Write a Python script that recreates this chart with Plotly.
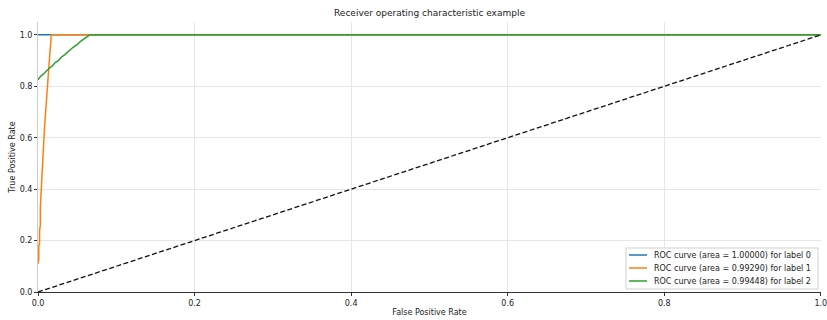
import plotly.graph_objects as go

title = "Receiver operating characteristic example"
x_label = "False Positive Rate"
y_label = "True Positive Rate"

fpr0 = [0.0, 1.0]
tpr0 = [1.0, 1.0]
label0 = "ROC curve (area = 1.00000) for label 0"

fpr1 = [0.0, 0.001, 0.001, 0.002, 0.002, 0.003, 0.003, 0.004, 0.005, 0.006, 0.007, 0.008,
        0.009, 0.010, 0.011, 0.012, 0.013, 0.014, 0.015, 0.016, 0.017, 1.0]
tpr1 = [0.11, 0.13, 0.18, 0.19, 0.24, 0.26, 0.33, 0.40, 0.45, 0.52, 0.57, 0.62,
        0.67, 0.72, 0.76, 0.80, 0.84, 0.88, 0.92, 0.95, 1.0, 1.0]
label1 = "ROC curve (area = 0.99290) for label 1"

fpr2 = [0.0, 0.003, 0.006, 0.009, 0.012, 0.015, 0.018, 0.022, 0.026, 0.030, 0.034,
        0.038, 0.042, 0.046, 0.050, 0.054, 0.058, 0.062, 0.066, 1.0]
tpr2 = [0.825, 0.838, 0.845, 0.855, 0.862, 0.872, 0.878, 0.892, 0.900, 0.914, 0.922,
        0.935, 0.944, 0.954, 0.962, 0.974, 0.982, 0.992, 1.0, 1.0]
label2 = "ROC curve (area = 0.99448) for label 2"

diag_x = [0.0, 1.0]
diag_y = [0.0, 1.0]

ticks = [0.0, 0.2, 0.4, 0.6, 0.8, 1.0]
tick_text = ["0.0", "0.2", "0.4", "0.6", "0.8", "1.0"]

series = [(fpr0, tpr0, label0, "#1f77b4"),
          (fpr1, tpr1, label1, "#ff7f0e"),
          (fpr2, tpr2, label2, "#2ca02c")]

fig = go.Figure()
for fx, ty, lab, col in series:
    fig.add_trace(go.Scatter(x=fx, y=ty, mode="lines", name=lab, showlegend=False,
                             line=dict(color=col, width=1.5)))
fig.add_trace(go.Scatter(x=diag_x, y=diag_y, mode="lines", showlegend=False,
                         line=dict(color="#111", width=1.3, dash="5px,2.5px")))

# plot area geometry (pixels)
L, R, T, B = 38, 821, 22, 292
W, H = R - L, B - T
def px(x):
    return (x - L) / W
def py(y):
    return (B - y) / H

# manual legend (matplotlib-like compact legend)
shapes = [dict(type="rect", xref="paper", yref="paper",
               x0=px(626), x1=px(818), y0=py(289), y1=py(248),
               line=dict(color="#d0d0d0", width=1), fillcolor="rgba(255,255,255,0.85)",
               layer="above")]
annotations = []
for i, (_, _, lab, col) in enumerate(series):
    yy = py(255 + 13 * i)
    shapes.append(dict(type="line", xref="paper", yref="paper",
                       x0=px(629), x1=px(647), y0=yy, y1=yy,
                       line=dict(color=col, width=1.5), layer="above"))
    annotations.append(dict(text=lab, xref="paper", yref="paper", x=px(652), y=yy,
                            xanchor="left", yanchor="middle", showarrow=False,
                            font=dict(family="DejaVu Sans", size=8, color="#222")))

font = dict(family="DejaVu Sans", size=8, color="#222")
fig.update_layout(
    width=827, height=320,
    margin=dict(l=L, r=827 - R, t=T, b=320 - B, autoexpand=False),
    paper_bgcolor="white", plot_bgcolor="white",
    font=font,
    title=dict(text=title, x=(L + R) / 2 / 827, xanchor="center", y=1 - 13 / 320,
               yanchor="middle", font=dict(family="DejaVu Sans", size=9, color="#222")),
    shapes=shapes, annotations=annotations,
    showlegend=False,
)
fig.update_xaxes(range=[0, 1.0002], tickvals=ticks, ticktext=tick_text, automargin=False,
                 ticklabeloverflow="allow",
                 showgrid=True, gridcolor="#e6e6e6", gridwidth=1, zeroline=False,
                 showline=True, linecolor="#333", linewidth=1,
                 ticks="outside", ticklen=3, tickcolor="#333",
                 title=dict(text=x_label, standoff=2, font=dict(size=8)))
fig.update_yaxes(range=[0, 1.05], tickvals=ticks, ticktext=tick_text, automargin=False,
                 showgrid=True, gridcolor="#e6e6e6", gridwidth=1, zeroline=False,
                 showline=True, linecolor="#ccc", linewidth=1,
                 ticks="outside", ticklen=3, tickcolor="#333",
                 title=dict(text=y_label, standoff=2, font=dict(size=8)))

fig.write_html("out.html", config={"displayModeBar": False},
               post_script="document.body.style.margin='0';")
